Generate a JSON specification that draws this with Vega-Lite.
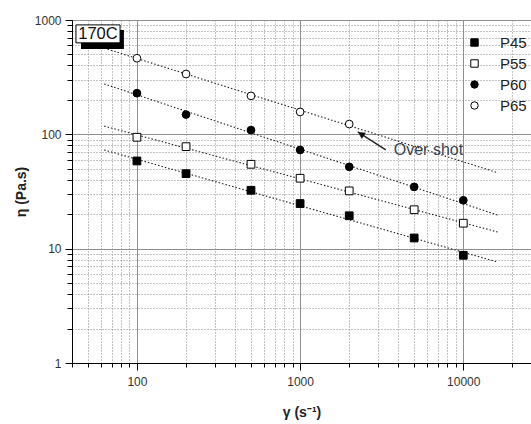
{
  "$schema": "https://vega.github.io/schema/vega-lite/v6.json",
  "width": 459,
  "height": 343,
  "autosize": {"type": "none"},
  "padding": {"left": 72, "top": 20, "right": 0, "bottom": 61},
  "background": "white",
  "config": {
    "view": {"stroke": "black", "strokeWidth": 1},
    "font": "Liberation Sans",
    "legend": {
      "title": null,
      "orient": "none",
      "legendX": 395,
      "legendY": 15,
      "padding": 0,
      "labelFont": "Liberation Sans",
      "labelFontSize": 15,
      "labelColor": "#222",
      "labelOffset": 18,
      "rowPadding": 5,
      "symbolSize": 55,
      "symbolStrokeWidth": 1
    }
  },
  "datasets": {
    "pts": [
      {"series": "P45", "x": 100, "y": 58.5},
      {"series": "P45", "x": 200, "y": 45.3},
      {"series": "P45", "x": 500, "y": 32.4},
      {"series": "P45", "x": 1000, "y": 24.8},
      {"series": "P45", "x": 2000, "y": 19.4},
      {"series": "P45", "x": 5000, "y": 12.4},
      {"series": "P45", "x": 10000, "y": 8.75},
      {"series": "P55", "x": 100, "y": 94.3},
      {"series": "P55", "x": 200, "y": 78},
      {"series": "P55", "x": 500, "y": 54.7},
      {"series": "P55", "x": 1000, "y": 41.3},
      {"series": "P55", "x": 2000, "y": 32.0},
      {"series": "P55", "x": 5000, "y": 21.9},
      {"series": "P55", "x": 10000, "y": 16.7},
      {"series": "P60", "x": 100, "y": 229},
      {"series": "P60", "x": 200, "y": 149},
      {"series": "P60", "x": 500, "y": 109},
      {"series": "P60", "x": 1000, "y": 73},
      {"series": "P60", "x": 2000, "y": 52},
      {"series": "P60", "x": 5000, "y": 34.7},
      {"series": "P60", "x": 10000, "y": 26.5},
      {"series": "P65", "x": 100, "y": 463},
      {"series": "P65", "x": 200, "y": 337},
      {"series": "P65", "x": 500, "y": 217},
      {"series": "P65", "x": 1000, "y": 157},
      {"series": "P65", "x": 2000, "y": 123}
    ],
    "fits": [
      {"series": "P45", "x": 63, "y": 73},
      {"series": "P45", "x": 16200, "y": 7.65},
      {"series": "P55", "x": 63, "y": 118},
      {"series": "P55", "x": 16200, "y": 14.0},
      {"series": "P60", "x": 63, "y": 276},
      {"series": "P60", "x": 16200, "y": 19.7},
      {"series": "P65", "x": 63, "y": 568},
      {"series": "P65", "x": 16200, "y": 46.2}
    ],
    "shadow": [{"x": 45.4, "x2": 83.2, "y": 819, "y2": 558}],
    "box": [{"x": 42.3, "x2": 78.8, "y": 906, "y2": 631, "label": "170C", "tx": 57.7, "ty": 755}],
    "arrow": [{"x": 3350, "y": 73.1}, {"x": 2255, "y": 105}],
    "arrowhead": [{"x": 2366, "y": 100.4}],
    "note": [{"x": 3750, "y": 73.1, "label": "Over shot"}]
  },
  "encoding": {
    "x": {
      "field": "x",
      "type": "quantitative",
      "scale": {"type": "log", "domain": [40, 26000], "nice": false, "zero": false},
      "axis": {
        "title": "γ (s⁻¹)",
        "values": [40, 50, 60, 70, 80, 90, 100, 200, 300, 400, 500, 600, 700, 800, 900, 1000, 2000, 3000, 4000, 5000, 6000, 7000, 8000, 9000, 10000, 20000],
        "labelExpr": "indexof([100, 1000, 10000], datum.value) >= 0 ? format(datum.value, 'd') : ''",
        "labelOverlap": false,
        "labelFlush": false,
        "grid": true,
        "gridColor": {"condition": {"test": "indexof([100, 1000, 10000], datum.value) >= 0", "value": "#8f8f8f"}, "value": "#888888"},
        "gridDash": {"condition": {"test": "indexof([100, 1000, 10000], datum.value) >= 0", "value": []}, "value": [1, 2]},
        "gridWidth": 1,
        "tickSize": {"condition": {"test": "indexof([100, 1000, 10000], datum.value) >= 0", "value": 7}, "value": 4},
        "tickColor": "black",
        "domainColor": "black",
        "labelFont": "Liberation Sans",
        "labelFontSize": 12,
        "labelColor": "#333",
        "labelPadding": 6,
        "titleFont": "Liberation Sans",
        "titleFontSize": 14,
        "titleFontWeight": "bold",
        "titleColor": "#222",
        "titlePadding": 18
      }
    },
    "y": {
      "field": "y",
      "type": "quantitative",
      "scale": {"type": "log", "domain": [1, 1000], "nice": false, "zero": false},
      "axis": {
        "title": "η (Pa.s)",
        "values": [1, 2, 3, 4, 5, 6, 7, 8, 9, 10, 20, 30, 40, 50, 60, 70, 80, 90, 100, 200, 300, 400, 500, 600, 700, 800, 900, 1000],
        "labelExpr": "indexof([1, 10, 100, 1000], datum.value) >= 0 ? format(datum.value, 'd') : ''",
        "labelOverlap": false,
        "labelFlush": false,
        "grid": true,
        "gridColor": {"condition": {"test": "indexof([1, 10, 100, 1000], datum.value) >= 0", "value": "#8f8f8f"}, "value": "#888888"},
        "gridDash": {"condition": {"test": "indexof([1, 10, 100, 1000], datum.value) >= 0", "value": []}, "value": [1, 2]},
        "gridWidth": 1,
        "tickSize": {"condition": {"test": "indexof([1, 10, 100, 1000], datum.value) >= 0", "value": 7}, "value": 5},
        "tickColor": "black",
        "domainColor": "black",
        "labelFont": "Liberation Sans",
        "labelFontSize": 12,
        "labelColor": "#333",
        "labelPadding": 4,
        "titleFont": "Liberation Sans",
        "titleFontSize": 14,
        "titleFontWeight": "bold",
        "titleColor": "#222",
        "titlePadding": 6
      }
    }
  },
  "layer": [
    {
      "data": {"name": "fits"},
      "mark": {"type": "line", "color": "#222", "strokeWidth": 1.1, "strokeDash": [1.5, 2]},
      "encoding": {"detail": {"field": "series"}}
    },
    {
      "data": {"name": "pts"},
      "mark": {"type": "point", "filled": true, "strokeWidth": 1, "size": 60, "opacity": 1},
      "encoding": {
        "shape": {
          "field": "series",
          "type": "nominal",
          "scale": {"domain": ["P45", "P55", "P60", "P65"], "range": ["square", "square", "circle", "circle"]}
        },
        "fill": {
          "field": "series",
          "type": "nominal",
          "scale": {"domain": ["P45", "P55", "P60", "P65"], "range": ["black", "white", "black", "white"]}
        },
        "stroke": {
          "field": "series",
          "type": "nominal",
          "scale": {"domain": ["P45", "P55", "P60", "P65"], "range": ["black", "black", "black", "black"]}
        }
      }
    },
    {
      "data": {"name": "shadow"},
      "mark": {"type": "rect", "color": "black"},
      "encoding": {"x2": {"field": "x2"}, "y2": {"field": "y2"}}
    },
    {
      "data": {"name": "box"},
      "mark": {"type": "rect", "fill": "white", "stroke": "black", "strokeWidth": 1},
      "encoding": {"x2": {"field": "x2"}, "y2": {"field": "y2"}}
    },
    {
      "data": {"name": "box"},
      "mark": {"type": "text", "font": "Liberation Sans", "fontSize": 16.5, "color": "#111", "align": "center", "baseline": "middle"},
      "encoding": {
        "x": {"field": "tx", "type": "quantitative"},
        "y": {"field": "ty", "type": "quantitative"},
        "text": {"field": "label"}
      }
    },
    {
      "data": {"name": "arrow"},
      "mark": {"type": "line", "color": "#222", "strokeWidth": 1.4},
      "encoding": {}
    },
    {
      "data": {"name": "arrowhead"},
      "mark": {"type": "point", "shape": "triangle-up", "angle": 303, "filled": true, "fill": "#111", "stroke": "#111", "strokeWidth": 0.5, "size": 45, "opacity": 1},
      "encoding": {}
    },
    {
      "data": {"name": "note"},
      "mark": {"type": "text", "font": "Liberation Sans", "fontSize": 16, "color": "#3a4350", "align": "left", "baseline": "middle"},
      "encoding": {"text": {"field": "label"}}
    }
  ]
}
